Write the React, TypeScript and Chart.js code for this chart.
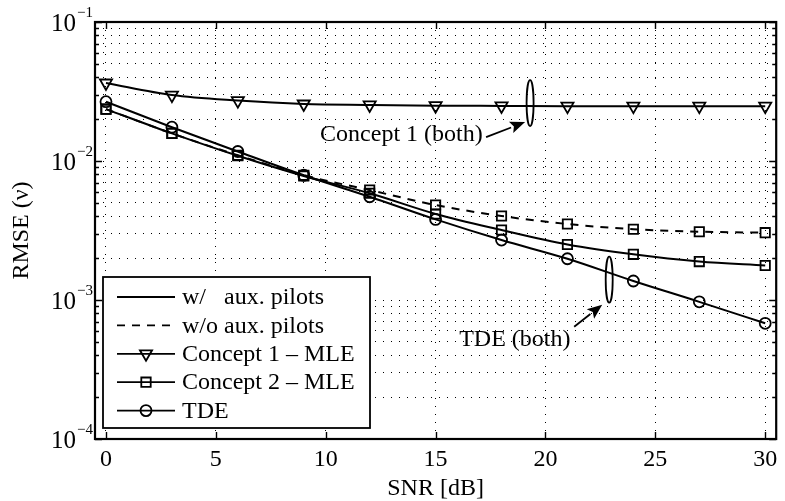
import React, { useEffect, useRef } from 'react';
import { Chart, registerables } from 'chart.js';

Chart.register(...registerables);

// ---- data ----
const snrDb = [0, 3, 6, 9, 12, 15, 18, 21, 24, 27, 30];
const concept1Mle = [0.0364, 0.0298, 0.0272, 0.0257, 0.0253, 0.025, 0.0249, 0.0248, 0.0248, 0.0248, 0.0248];
const concept2WithAux = [0.0236, 0.0158, 0.0109, 0.0078, 0.00586, 0.00416, 0.00319, 0.00251, 0.00213, 0.00189, 0.00177];
const concept2WithoutAux = [0.0236, 0.0158, 0.011, 0.0079, 0.00618, 0.00482, 0.00402, 0.00352, 0.00323, 0.0031, 0.00305];
const tdeValues = [0.0267, 0.0175, 0.0117, 0.0079, 0.00553, 0.0038, 0.0027, 0.00198, 0.00137, 0.00097, 0.00068];

const xTickValues = [0, 5, 10, 15, 20, 25, 30];
const xTickLabels = ['0', '5', '10', '15', '20', '25', '30'];
const yDecadeExponents = [-4, -3, -2, -1];
const yMinorMantissas = [2, 3, 4, 5, 6, 7, 8, 9];

const xAxisTitle = 'SNR [dB]';
const yAxisTitle = 'RMSE (ν)';
const legendLabels = ['w/   aux. pilots', 'w/o aux. pilots', 'Concept 1 – MLE', 'Concept 2 – MLE', 'TDE'];
const annotationConcept = { label: 'Concept 1 (both)', x: 19.3, y: 0.0261 };
const annotationTde = { label: 'TDE (both)', x: 22.9, y: 0.0014 };

const FONT = '"Liberation Serif", "Times New Roman", serif';

function pts(values: number[]) {
  return snrDb.map((x, i) => ({ x, y: values[i] }));
}

function drawMarker(ctx: CanvasRenderingContext2D, kind: string, x: number, y: number) {
  ctx.beginPath();
  if (kind === 'tri') {
    const r = 7;
    ctx.moveTo(x, y + r);
    ctx.lineTo(x + r * Math.sin(Math.PI / 3), y - r / 2);
    ctx.lineTo(x - r * Math.sin(Math.PI / 3), y - r / 2);
    ctx.closePath();
  } else if (kind === 'sq') {
    const h = 4.7;
    ctx.rect(x - h, y - h, 2 * h, 2 * h);
  } else if (kind === 'circ') {
    ctx.arc(x, y, 5.5, 0, Math.PI * 2);
  }
  ctx.stroke();
}

function drawArrow(ctx: CanvasRenderingContext2D, x0: number, y0: number, x1: number, y1: number) {
  const ang = Math.atan2(y1 - y0, x1 - x0);
  const len = 15;
  const w = 6;
  const bx = x1 - len * Math.cos(ang);
  const by = y1 - len * Math.sin(ang);
  ctx.beginPath();
  ctx.moveTo(x0, y0);
  ctx.lineTo(bx, by);
  ctx.stroke();
  ctx.beginPath();
  ctx.moveTo(x1, y1);
  ctx.lineTo(bx + w * Math.sin(ang), by - w * Math.cos(ang));
  ctx.lineTo(bx + 3 * Math.cos(ang), by + 3 * Math.sin(ang));
  ctx.lineTo(bx - w * Math.sin(ang), by + w * Math.cos(ang));
  ctx.closePath();
  ctx.fill();
}

const decorPlugin = {
  id: 'matlabDecor',
  afterDraw(chart: any) {
    const ctx: CanvasRenderingContext2D = chart.ctx;
    const xs = chart.scales.x;
    const ys = chart.scales.y;
    const { left, right, top, bottom } = chart.chartArea;
    ctx.save();
    ctx.strokeStyle = '#000';
    ctx.fillStyle = '#000';
    ctx.setLineDash([]);

    // inward ticks
    ctx.lineWidth = 1.4;
    ctx.beginPath();
    xTickValues.forEach((v) => {
      const px = Math.round(xs.getPixelForValue(v)) + 0.5;
      ctx.moveTo(px, bottom);
      ctx.lineTo(px, bottom - 7);
      ctx.moveTo(px, top);
      ctx.lineTo(px, top + 7);
    });
    yDecadeExponents.forEach((e) => {
      const py = Math.round(ys.getPixelForValue(Math.pow(10, e))) + 0.5;
      ctx.moveTo(left, py);
      ctx.lineTo(left + 7, py);
      ctx.moveTo(right, py);
      ctx.lineTo(right - 7, py);
      if (e < -1) {
        yMinorMantissas.forEach((m) => {
          const q = Math.round(ys.getPixelForValue(m * Math.pow(10, e))) + 0.5;
          ctx.moveTo(left, q);
          ctx.lineTo(left + 4, q);
          ctx.moveTo(right, q);
          ctx.lineTo(right - 4, q);
        });
      }
    });
    ctx.stroke();

    // box
    ctx.lineWidth = 2.2;
    ctx.strokeRect(left, top, right - left, bottom - top);

    // tick labels
    ctx.font = `24px ${FONT}`;
    ctx.textAlign = 'center';
    ctx.textBaseline = 'middle';
    xTickValues.forEach((v, i) => {
      ctx.fillText(xTickLabels[i], xs.getPixelForValue(v), bottom + 21);
    });
    yDecadeExponents.forEach((e) => {
      const py = ys.getPixelForValue(Math.pow(10, e));
      ctx.font = `25px ${FONT}`;
      ctx.textAlign = 'right';
      ctx.textBaseline = 'middle';
      ctx.fillText('10', 76, py + 2);
      ctx.font = `15px ${FONT}`;
      ctx.textAlign = 'left';
      ctx.fillText('−' + String(-e), 77, py - 9);
    });

    // axis titles
    ctx.font = `24px ${FONT}`;
    ctx.textAlign = 'center';
    ctx.textBaseline = 'middle';
    ctx.fillText(xAxisTitle, (left + right) / 2, 489);
    ctx.save();
    ctx.translate(22, (top + bottom) / 2);
    ctx.rotate(-Math.PI / 2);
    ctx.fillText(yAxisTitle, 0, 0);
    ctx.restore();

    // annotations
    ctx.lineWidth = 1.8;
    const c1x = xs.getPixelForValue(annotationConcept.x);
    const c1y = ys.getPixelForValue(annotationConcept.y);
    ctx.beginPath();
    ctx.ellipse(c1x, c1y, 3.5, 23, 0, 0, Math.PI * 2);
    ctx.stroke();
    drawArrow(ctx, c1x - 44, c1y + 34, c1x - 5, c1y + 19);
    ctx.textAlign = 'left';
    ctx.fillText(annotationConcept.label, c1x - 210, c1y + 32);

    const c2x = xs.getPixelForValue(annotationTde.x);
    const c2y = ys.getPixelForValue(annotationTde.y);
    ctx.beginPath();
    ctx.ellipse(c2x, c2y, 3.5, 23, 0, 0, Math.PI * 2);
    ctx.stroke();
    drawArrow(ctx, c2x - 35, c2y + 47, c2x - 7, c2y + 25);
    ctx.fillText(annotationTde.label, c2x - 150, c2y + 60);

    // legend
    const lx0 = 103, ly0 = 277, lx1 = 370, ly1 = 428;
    ctx.fillStyle = '#fff';
    ctx.fillRect(lx0, ly0, lx1 - lx0, ly1 - ly0);
    ctx.fillStyle = '#000';
    ctx.lineWidth = 1.8;
    ctx.strokeRect(lx0, ly0, lx1 - lx0, ly1 - ly0);
    const kinds = ['', '', 'tri', 'sq', 'circ'];
    legendLabels.forEach((lab, i) => {
      const cy = 297 + i * 28.4;
      ctx.setLineDash(i === 1 ? [8, 7] : []);
      ctx.beginPath();
      ctx.moveTo(117, cy);
      ctx.lineTo(175, cy);
      ctx.stroke();
      ctx.setLineDash([]);
      if (kinds[i]) drawMarker(ctx, kinds[i], 146, cy);
      ctx.font = `24px ${FONT}`;
      ctx.textAlign = 'left';
      ctx.textBaseline = 'middle';
      ctx.fillText(lab, 182, cy + 1);
    });
    ctx.restore();
  },
};

export default function App() {
  const ref = useRef<HTMLCanvasElement | null>(null);
  useEffect(() => {
    if (!ref.current) return;
    const common = {
      borderColor: '#000',
      borderWidth: 2,
      pointBorderColor: '#000',
      pointBackgroundColor: 'rgba(0,0,0,0)',
      pointBorderWidth: 1.8,
      cubicInterpolationMode: 'monotone' as const,
      fill: false,
    };
    const chart = new Chart(ref.current, {
      type: 'line',
      data: {
        datasets: [
          { ...common, label: 'Concept 2 – MLE (w/o)', data: pts(concept2WithoutAux), borderDash: [8, 7], pointStyle: 'rect', pointRadius: 6.6 },
          { ...common, label: 'Concept 1 – MLE', data: pts(concept1Mle), pointStyle: 'triangle', pointRotation: 180, pointRadius: 7 },
          { ...common, label: 'Concept 2 – MLE', data: pts(concept2WithAux), pointStyle: 'rect', pointRadius: 6.6 },
          { ...common, label: 'TDE', data: pts(tdeValues), pointStyle: 'circle', pointRadius: 5.5 },
        ],
      },
      options: {
        responsive: false,
        animation: false,
        layout: { padding: { top: 22, right: 5, left: 0, bottom: 0 } },
        plugins: { legend: { display: false }, tooltip: { enabled: false } },
        scales: {
          x: {
            type: 'linear',
            min: -0.5,
            max: 30.5,
            afterBuildTicks: (s: any) => {
              s.ticks = xTickValues.map((v) => ({ value: v }));
            },
            afterFit: (s: any) => {
              s.height = 62;
            },
            ticks: { display: false },
            grid: { color: '#000', lineWidth: 1, drawTicks: false },
            border: { display: false, dash: [1, 7] },
          },
          y: {
            type: 'logarithmic',
            min: 1e-4,
            max: 1e-1,
            afterBuildTicks: (s: any) => {
              const t: { value: number }[] = [];
              yDecadeExponents.forEach((e) => {
                t.push({ value: Math.pow(10, e) });
                if (e < -1) yMinorMantissas.forEach((m) => t.push({ value: m * Math.pow(10, e) }));
              });
              s.ticks = t;
            },
            afterFit: (s: any) => {
              s.width = 95;
            },
            ticks: { display: false },
            grid: { color: '#000', lineWidth: 1, drawTicks: false },
            border: { display: false, dash: [1, 7] },
          },
        },
      },
      plugins: [decorPlugin],
    });
    return () => chart.destroy();
  }, []);
  return (
    <div style={{ position: 'fixed', left: 0, top: 0, width: 785, height: 501, background: '#fff' }}>
      <canvas ref={ref} width={785} height={501} style={{ display: 'block' }} />
    </div>
  );
}
